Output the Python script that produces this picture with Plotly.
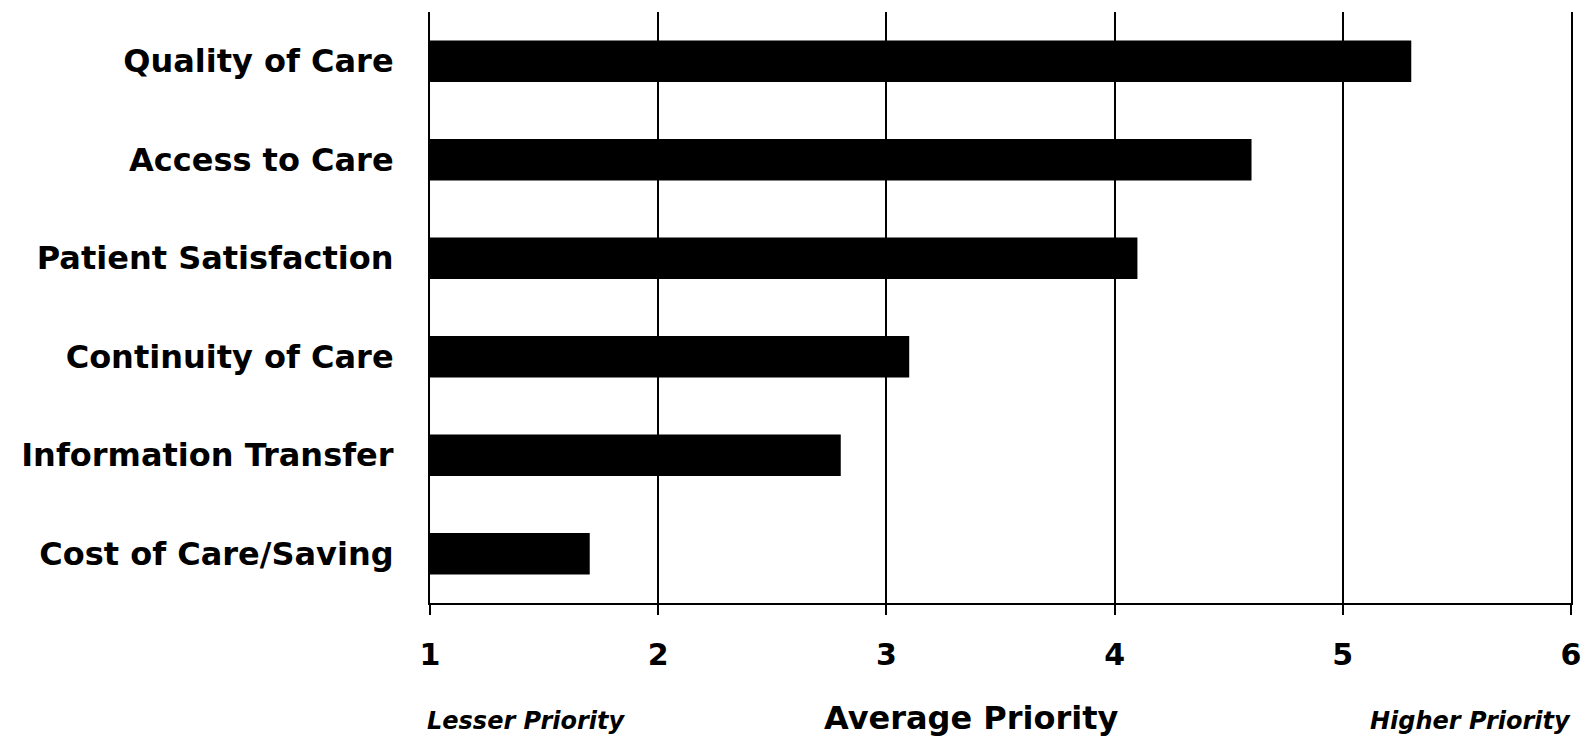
import plotly.graph_objects as go

categories = ["Quality of Care", "Access to Care", "Patient Satisfaction",
              "Continuity of Care", "Information Transfer", "Cost of Care/Saving"]
values = [5.3, 4.6, 4.1, 3.1, 2.8, 1.7]
x_ticks = [1, 2, 3, 4, 5, 6]

FONT = "DejaVu Sans"

fig = go.Figure()
fig.add_trace(go.Bar(
    y=categories, x=values, orientation="h",
    marker=dict(color="black", line=dict(width=0)),
    width=0.42,
))

fig.update_layout(
    width=1593, height=737,
    margin=dict(l=430, r=13, t=12, b=134),
    plot_bgcolor="white", paper_bgcolor="white",
    showlegend=False,
    font=dict(family=FONT, color="black"),
    bargap=0.58,
)
fig.update_xaxes(
    range=[1, 6], tickvals=x_ticks, ticktext=[str(t) for t in x_ticks],
    showgrid=True, gridcolor="black", gridwidth=2,
    showline=True, linecolor="black", linewidth=2,
    ticks="outside", ticklen=10, tickwidth=2, tickcolor="black",
    tickfont=dict(family=FONT, size=30, color="black", weight="bold"),
    ticklabelstandoff=14, zeroline=False,
)
fig.update_yaxes(
    range=[5.5, -0.5],
    showgrid=False, showline=True, linecolor="black", linewidth=2, mirror=True,
    ticks="", ticklabelstandoff=28,
    tickfont=dict(family=FONT, size=32, color="black", weight="bold"),
)

fig.add_annotation(text="Average Priority", xref="paper", yref="paper",
                   x=(976 - 430) / 1150, y=(603 - 718) / 591,
                   xanchor="center", yanchor="middle", showarrow=False,
                   font=dict(family=FONT, size=32, color="black", weight="bold"))
fig.add_annotation(text="Lesser Priority", xref="paper", yref="paper",
                   x=-5 / 1150, y=(603 - 721) / 591,
                   xanchor="left", yanchor="middle", showarrow=False,
                   font=dict(family=FONT, size=24, color="black", weight="bold", style="italic"))
fig.add_annotation(text="Higher Priority", xref="paper", yref="paper",
                   x=(1582 - 430) / 1150, y=(603 - 721) / 591,
                   xanchor="right", yanchor="middle", showarrow=False,
                   font=dict(family=FONT, size=24, color="black", weight="bold", style="italic"))

fig.write_html("out.html", config={"displayModeBar": False},
               post_script="document.body.style.margin='0';document.body.style.overflow='hidden';")
